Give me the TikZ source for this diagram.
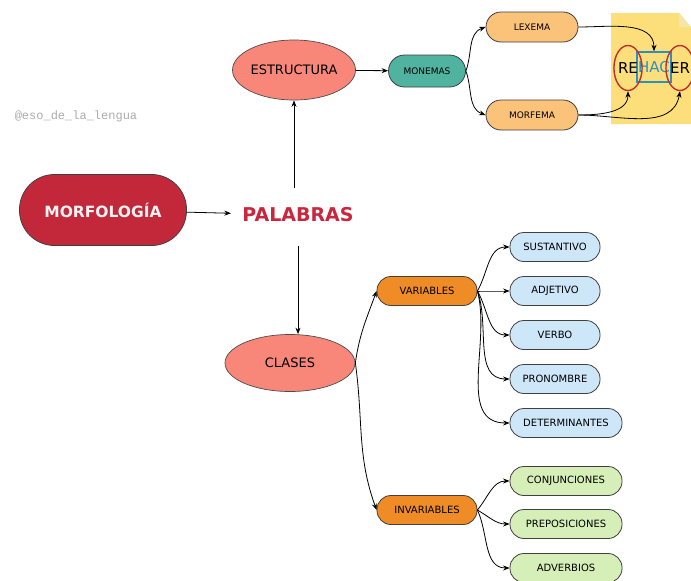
\documentclass[tikz,border=0pt]{standalone}
\usepackage{fontspec}
\setmainfont{DejaVu Sans}
\newfontfamily\wmfont{Liberation Mono}
\usetikzlibrary{shapes.geometric,positioning,arrows.meta}
\definecolor{morfored}{HTML}{C3283A}
\definecolor{palred}{HTML}{C8273F}
\definecolor{salmon}{HTML}{F8877A}
\definecolor{monteal}{HTML}{4FB3A0}
\definecolor{lexorange}{HTML}{FBC27A}
\definecolor{varorange}{HTML}{F08C25}
\definecolor{typeblue}{HTML}{CDE6F8}
\definecolor{typegreen}{HTML}{D6EEB8}
\definecolor{notey}{HTML}{FCDF7A}
\definecolor{notefold}{HTML}{F3E6A6}
\definecolor{ringred}{HTML}{C0302A}
\definecolor{hacblue}{HTML}{2F8FBF}
\tikzset{
    pill/.style={draw=black!75, line width=0.8pt, rounded corners=14pt,
        minimum height=29pt, inner sep=0pt, font=\fontsize{10}{11}\selectfont},
    oval/.style={ellipse, draw=black!70, line width=0.7pt, fill=salmon,
        inner sep=0pt, font=\fontsize{13}{15}\selectfont},
    link/.style={-{Stealth[length=6.5pt,width=5pt]}, line width=0.8pt},
    ring/.style={ellipse, draw=ringred, line width=1.4pt, inner sep=0pt,
        minimum width=28pt, minimum height=45pt, font=\fontsize{15}{17}\selectfont},
}
\begin{document}
\begin{tikzpicture}[x=1pt,y=-1pt]
\useasboundingbox (0,0) rectangle (691,581);
\fill[white] (0,0) rectangle (691,581);

\node[text=gray!65, font=\wmfont\fontsize{12}{13}\selectfont] (wm) at (76,116) {@eso\_de\_la\_lengua};

\node[pill, fill=morfored, text=white!95!black, minimum width=167pt, minimum height=71pt, rounded corners=35pt, font=\bfseries\fontsize{15.5}{18}\selectfont] (morf) at (103,210) {MORFOLOGÍA};
\node[text=palred, font=\bfseries\fontsize{19}{22}\selectfont] (pal) at (298,215) {PALABRAS};
\node[oval, minimum width=123pt, minimum height=60pt] (estr) at (294,70) {ESTRUCTURA};
\node[oval, minimum width=130pt, minimum height=57pt] (clases) at (290,363) {CLASES};

% monemas
\node[pill, fill=monteal, minimum width=77pt, minimum height=32pt, rounded corners=16pt, font=\fontsize{9}{10}\selectfont] (mon) at (427,71) {MONEMAS};
\node[pill, fill=lexorange, minimum width=92pt, minimum height=30pt, rounded corners=15pt, font=\fontsize{9}{10}\selectfont] (lex) at (532,27) {LEXEMA};
\node[pill, fill=lexorange, minimum width=92pt, minimum height=30pt, rounded corners=15pt, font=\fontsize{9}{10}\selectfont] (morfema) at (532,115) {MORFEMA};

% post-it
\fill[notey] (611,13) -- (679,13) -- (691,27) -- (691,124) -- (611,124) -- cycle;
\fill[notefold] (679,13) -- (679,27) -- (691,27) -- cycle;
\node[draw=hacblue, line width=1.4pt, text=hacblue, minimum width=34pt, minimum height=30pt, inner sep=0pt, font=\fontsize{15}{17}\selectfont] (hac) at (654,67) {HAC};
\node[ring] (re) at (628,68) {RE};
\node[ring] (er) at (680,68) {ER};

% clases
\node[pill, fill=varorange, minimum width=100pt] (var) at (427,291) {VARIABLES};
\node[pill, fill=varorange, minimum width=100pt] (invar) at (427,510) {INVARIABLES};

\node[pill, fill=typeblue, minimum width=90pt] (sust) at (555,247) {SUSTANTIVO};
\node[pill, fill=typeblue, minimum width=90pt] (adj) at (555,291) {ADJETIVO};
\node[pill, fill=typeblue, minimum width=90pt] (verbo) at (555,335) {VERBO};
\node[pill, fill=typeblue, minimum width=90pt] (pron) at (555,379) {PRONOMBRE};
\node[pill, fill=typeblue, minimum width=112pt] (det) at (566,423) {DETERMINANTES};

\node[pill, fill=typegreen, minimum width=112pt] (conj) at (566,481) {CONJUNCIONES};
\node[pill, fill=typegreen, minimum width=112pt] (prep) at (566,524) {PREPOSICIONES};
\node[pill, fill=typegreen, minimum width=112pt] (adv) at (566,568) {ADVERBIOS};

\draw[link, shorten >=8pt] (morf) -- (pal);
\draw[link, shorten <=16pt] (pal.north -| estr.south) -- (estr.south);
\draw[link, shorten <=20pt] (pal.south) -- (pal.south |- clases.north);
\draw[link] (estr) -- (mon);
\draw[link] (mon.east) to[out=70,in=200] (lex.west);
\draw[link] (mon.east) to[out=-70,in=160] (morfema.west);
\draw[link] (lex.east) to[out=0,in=90] (hac.north);
\draw[link] (morfema.east) to[out=0,in=-90] (re.south);
\draw[link] (morfema.east) to[out=0,in=-100] (er.south);

\draw[link] (clases.east) to[out=82,in=250] (var.west);
\draw[link] (clases.east) to[out=-82,in=110] (invar.west);
\foreach \t/\o in {sust/60, adj/0, verbo/-60, pron/-70, det/-75}
    \draw[link] (var.east) to[out=\o,in=180] (\t.west);
\foreach \t/\o in {conj/50, prep/-30, adv/-65}
    \draw[link] (invar.east) to[out=\o,in=180] (\t.west);
\end{tikzpicture}
\end{document}
